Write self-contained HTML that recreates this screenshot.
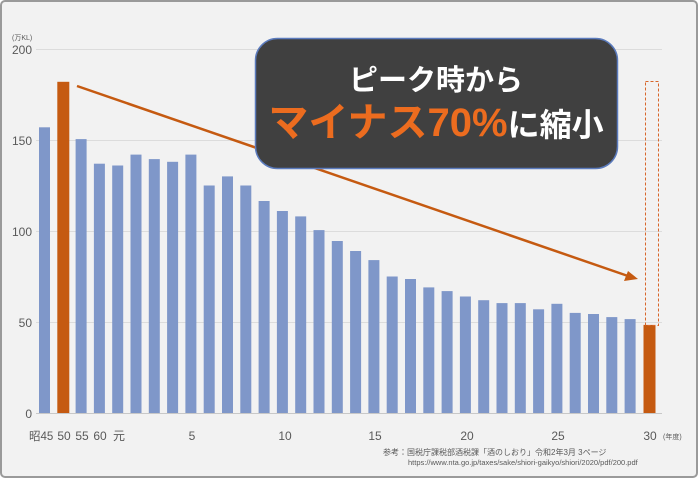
<!DOCTYPE html><html><head><meta charset="utf-8"><style>body{margin:0;background:#fff}svg{display:block}text{font-family:"Liberation Sans","Noto Sans CJK JP",sans-serif}</style></head><body>
<svg width="698" height="478" viewBox="0 0 698 478" xmlns="http://www.w3.org/2000/svg">
<rect x="1" y="1" width="696" height="476" rx="4" fill="#f2f2f2" stroke="#9a9a9a" stroke-width="2"/>
<g stroke="#dcdcdc" stroke-width="1">
<line x1="36" y1="49.5" x2="662" y2="49.5"/><line x1="36" y1="140.5" x2="662" y2="140.5"/><line x1="36" y1="231.5" x2="662" y2="231.5"/><line x1="36" y1="322.5" x2="662" y2="322.5"/>
</g>
<line x1="36" y1="413.5" x2="662" y2="413.5" stroke="#c8c8c8"/>
<g fill="#595959" font-size="12" text-anchor="end">
<text x="32" y="54">200</text><text x="32" y="145">150</text><text x="32" y="236">100</text><text x="32" y="327">50</text><text x="32" y="418">0</text>
</g>
<text x="12" y="40" font-size="7" fill="#595959">(万KL)</text>
<g fill="#7f97c9">
<rect x="39" y="127.3" width="11" height="285.7"/>
<rect x="75.6" y="139.1" width="11" height="273.9"/>
<rect x="93.9" y="163.7" width="11" height="249.3"/>
<rect x="112.2" y="165.5" width="11" height="247.5"/>
<rect x="130.5" y="154.6" width="11" height="258.4"/>
<rect x="148.8" y="159.1" width="11" height="253.9"/>
<rect x="167.1" y="161.8" width="11" height="251.2"/>
<rect x="185.4" y="154.6" width="11" height="258.4"/>
<rect x="203.7" y="185.5" width="11" height="227.5"/>
<rect x="222" y="176.4" width="11" height="236.6"/>
<rect x="240.3" y="185.5" width="11" height="227.5"/>
<rect x="258.6" y="201" width="11" height="212"/>
<rect x="276.9" y="211" width="11" height="202"/>
<rect x="295.2" y="216.4" width="11" height="196.6"/>
<rect x="313.5" y="230.1" width="11" height="182.9"/>
<rect x="331.8" y="241" width="11" height="172"/>
<rect x="350.1" y="251" width="11" height="162"/>
<rect x="368.4" y="260.1" width="11" height="152.9"/>
<rect x="386.7" y="276.5" width="11" height="136.5"/>
<rect x="405" y="279" width="11" height="134"/>
<rect x="423.3" y="287.4" width="11" height="125.6"/>
<rect x="441.6" y="291.1" width="11" height="121.9"/>
<rect x="459.9" y="296.5" width="11" height="116.5"/>
<rect x="478.2" y="300.2" width="11" height="112.8"/>
<rect x="496.5" y="303.1" width="11" height="109.9"/>
<rect x="514.8" y="303.1" width="11" height="109.9"/>
<rect x="533.1" y="309.3" width="11" height="103.7"/>
<rect x="551.4" y="303.8" width="11" height="109.2"/>
<rect x="569.7" y="312.9" width="11" height="100.1"/>
<rect x="588" y="314" width="11" height="99"/>
<rect x="606.3" y="317.1" width="11" height="95.9"/>
<rect x="624.6" y="319.1" width="11" height="93.9"/>
</g>
<g fill="#c55a11">
<rect x="57.3" y="81.8" width="12" height="331.2"/>
<rect x="643.5" y="324.9" width="12" height="88.1"/>
</g>
<g fill="#595959" font-size="12" text-anchor="middle">
<text x="29" y="440" text-anchor="start" font-size="11.5">昭45</text><text x="64" y="440">50</text><text x="82" y="440">55</text><text x="100" y="440">60</text><text x="119" y="440">元</text><text x="192" y="440">5</text><text x="285" y="440">10</text><text x="375" y="440">15</text><text x="467" y="440">20</text><text x="558" y="440">25</text><text x="650" y="440">30</text>
</g>
<text x="663" y="439" font-size="7" fill="#595959">(年度)</text>
<text x="383" y="455" font-size="8" fill="#595959">参考：国税庁課税部酒税課「酒のしおり」令和2年3月 3ページ</text>
<text x="408" y="465" font-size="7.5" fill="#595959">https://www.nta.go.jp/taxes/sake/shiori-gaikyo/shiori/2020/pdf/200.pdf</text>
<rect x="645.5" y="81.5" width="13" height="244" fill="none" stroke="#d8662a" stroke-dasharray="3,2"/>
<line x1="77" y1="86" x2="628" y2="276" stroke="#c55a11" stroke-width="2.5"/>
<polygon points="638,279 624,281 628,271" fill="#c55a11"/>
<rect x="255.5" y="38.5" width="362" height="130" rx="22" fill="#404040" stroke="#5b7bbd" stroke-width="1.5"/>
<text x="436" y="90" font-size="29" font-weight="bold" fill="#fff" text-anchor="middle">ピーク時から</text>
<text x="436" y="136" text-anchor="middle" font-weight="bold"><tspan fill="#ec6c1f" font-size="40">マイナス70%</tspan><tspan fill="#fff" font-size="32">に縮小</tspan></text>
</svg></body></html>
